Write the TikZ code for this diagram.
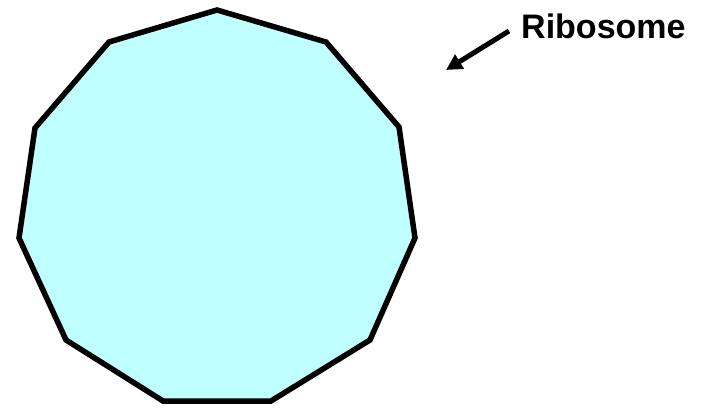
\documentclass[tikz,border=0pt]{standalone}
\usepackage{fontspec}
\setmainfont{Liberation Sans}
\usetikzlibrary{arrows.meta}
\definecolor{ribofill}{HTML}{BFFFFF}
\tikzset{
  cell/.style={draw=black, line width=5.5pt, line join=miter, fill=ribofill},
  pointer/.style={draw=black, line width=5pt, -{Triangle[length=16pt,width=16pt]}},
  label/.style={font=\bfseries\fontsize{34}{38}\selectfont, inner sep=0pt, anchor=west}
}
\begin{document}
\begin{tikzpicture}[x=1pt,y=-1pt]
\useasboundingbox (0,0) rectangle (701,409);
\draw[cell] (217,10) -- (326,42) -- (399,127) -- (415,238) -- (370,340) -- (271,401) -- (163,401) -- (66,340) -- (19,238) -- (35,128) -- (109,42) -- cycle;
\node[label] (ribo) at (521,26) {Ribosome};
\coordinate (tip) at (446,70);
\draw[pointer] (509,31) -- (tip);
\end{tikzpicture}
\end{document}
